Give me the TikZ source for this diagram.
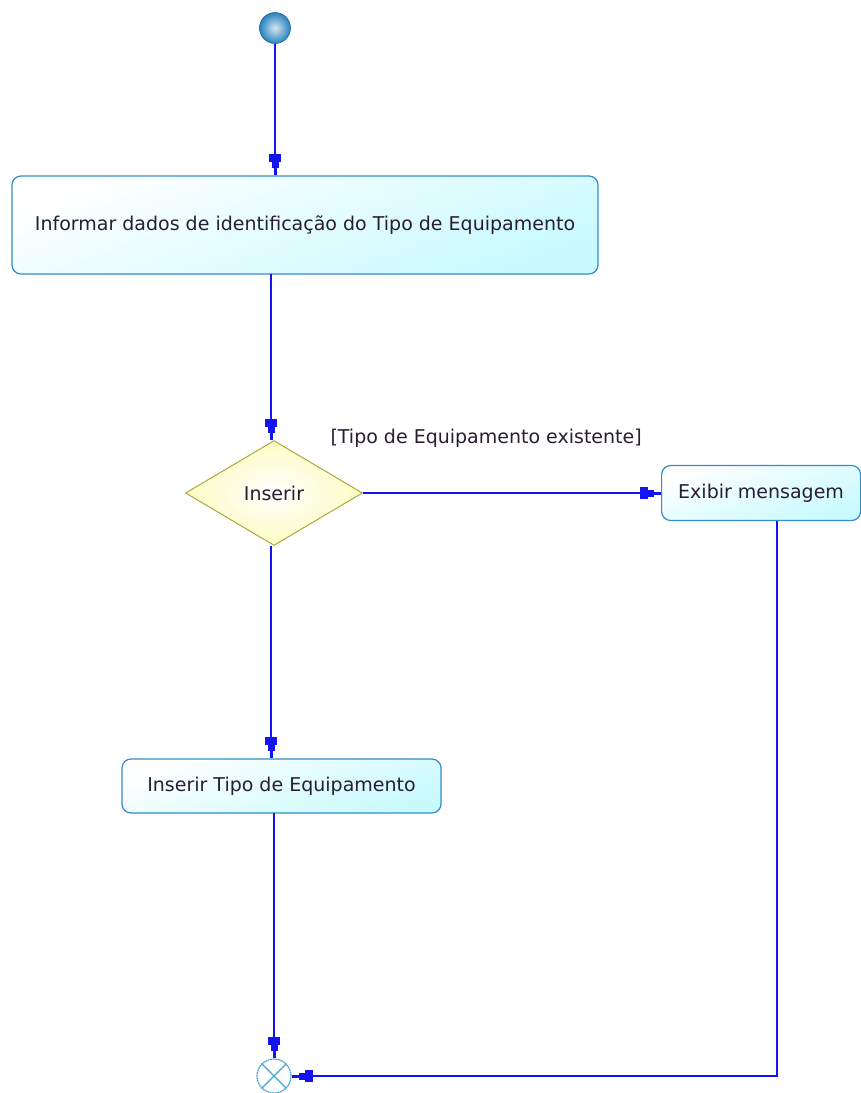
\documentclass[tikz,border=0pt]{standalone}
\usepackage{fontspec}
\setmainfont{DejaVu Sans}
\usetikzlibrary{arrows.meta,shapes.geometric,positioning}
\definecolor{flow}{RGB}{20,20,240}
\definecolor{boxborder}{RGB}{50,140,200}
\definecolor{boxfill}{RGB}{200,250,255}
\definecolor{dborder}{RGB}{170,170,60}
\definecolor{dfill}{RGB}{252,252,195}
\definecolor{startc}{RGB}{40,130,190}
\definecolor{endc}{RGB}{70,165,215}
\definecolor{txt}{RGB}{40,30,50}
\begin{document}
\begin{tikzpicture}[x=1pt,y=-1pt,
  txtfont/.style={font=\fontsize{19}{22}\selectfont, text=txt},
  action/.style={draw=boxborder, line width=1.2pt, rounded corners=9pt, top color=white, bottom color=boxfill, shading angle=20, txtfont, inner sep=0pt},
  decision/.style={diamond, draw=dborder, line width=1pt, inner color=white, outer color=dfill, txtfont, inner sep=0pt, minimum width=177pt, minimum height=105pt, aspect=1.68},
  flowline/.style={draw=flow, line width=1.8pt, -{Rectangle[length=8pt,width=12pt,sep=0pt]Rectangle[length=6pt,width=7pt,sep=0pt]Rectangle[length=7pt,width=3pt,sep=0pt]}},
  guard/.style={txtfont}
]
\useasboundingbox (0,0) rectangle (861,1093);
\fill[white] (0,0) rectangle (861,1093);

\node[circle, minimum size=31pt, inner sep=0pt, draw=startc!80!black, line width=0.6pt, inner color=white!80!startc, outer color=startc] (start) at (275,28) {};

\node[action, minimum width=586pt, minimum height=98pt] (inf) at (305,225) {Informar dados de identificação do Tipo de Equipamento};

\node[decision] (dec) at (274,493) {Inserir};

\node[action, minimum width=199pt, minimum height=55pt, anchor=west] (exib) at (661,493) {Exibir mensagem};

\node[action, minimum width=319pt, minimum height=54pt] (ins) at (281.5,786) {Inserir Tipo de Equipamento};

\node[circle, minimum size=34pt, inner sep=0pt, draw=endc, line width=1.2pt, dash pattern=on 2pt off 0.6pt, fill=white] (end) at (274,1076) {};
\draw[endc, line width=1.1pt] (end.north west) -- (end.south east) (end.north east) -- (end.south west);

\node[guard, anchor=west] (g) at (327,438) {[Tipo de Equipamento existente]};

\coordinate (c1) at (777,1076);
\coordinate (a1) at (271,274);
\coordinate (a2) at (271,546);
\coordinate (a3) at (274,813);
\coordinate (c2) at (777,521);

\draw[flowline] (start) -- (start |- inf.north);
\draw[flowline] (a1) -- (a1 |- dec.north);
\draw[flowline] (dec.east) -- (exib.west);
\draw[flowline] (a2) -- (a2 |- ins.north);
\draw[flowline] (a3) -- (end.north);
\draw[flowline] (c2) -- (c1) -- (end.east);
\end{tikzpicture}
\end{document}
